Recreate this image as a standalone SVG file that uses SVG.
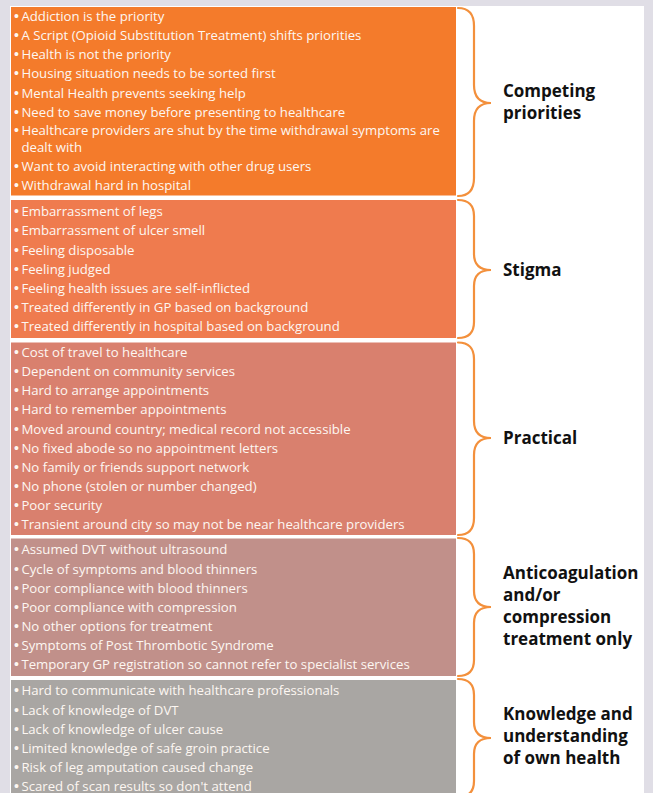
<svg xmlns="http://www.w3.org/2000/svg" width="653" height="793" viewBox="0 0 653 793">
<style>
.item{font-family:"Open Sans","Liberation Sans",sans-serif;font-size:13.2px;fill:#fdf7f2}
.b{font-family:"Liberation Sans",sans-serif;font-size:14px}
.lbl{font-family:"Open Sans","Liberation Sans",sans-serif;font-size:17px;font-weight:700;fill:#111111}
.brace{fill:none;stroke:#f3903c;stroke-width:2.2;stroke-linecap:round}
</style>
<rect x="0" y="0" width="653" height="793" fill="#e0dee6"/>
<rect x="10" y="6" width="634" height="790" fill="#ffffff"/>

<g id="competing-priorities">
<rect x="11" y="7" width="445" height="188.5" fill="#f47b2b"/>
<text class="item" x="14" y="20.7"><tspan class="b">•</tspan><tspan dx="2.5">Addiction is the priority</tspan></text>
<text class="item" x="14" y="40"><tspan class="b">•</tspan><tspan dx="2.5">A Script (Opioid Substitution Treatment) shifts priorities</tspan></text>
<text class="item" x="14" y="59.4"><tspan class="b">•</tspan><tspan dx="2.5">Health is not the priority</tspan></text>
<text class="item" x="14" y="78.4"><tspan class="b">•</tspan><tspan dx="2.5">Housing situation needs to be sorted first</tspan></text>
<text class="item" x="14" y="97.5"><tspan class="b">•</tspan><tspan dx="2.5">Mental Health prevents seeking help</tspan></text>
<text class="item" x="14" y="116.7"><tspan class="b">•</tspan><tspan dx="2.5">Need to save money before presenting to healthcare</tspan></text>
<text class="item" x="14" y="135.4"><tspan class="b">•</tspan><tspan dx="2.5">Healthcare providers are shut by the time withdrawal symptoms are</tspan></text>
<text class="item" x="21.5" y="151.8">dealt with</text>
<text class="item" x="14" y="170.8"><tspan class="b">•</tspan><tspan dx="2.5">Want to avoid interacting with other drug users</tspan></text>
<text class="item" x="14" y="190"><tspan class="b">•</tspan><tspan dx="2.5">Withdrawal hard in hospital</tspan></text>
<text class="lbl" x="503" y="97">Competing</text>
<text class="lbl" x="503" y="119">priorities</text>
</g>

<g id="stigma">
<rect x="11" y="200" width="445" height="138" fill="#ef7b4e"/>
<text class="item" x="14" y="216"><tspan class="b">•</tspan><tspan dx="2.5">Embarrassment of legs</tspan></text>
<text class="item" x="14" y="235.4"><tspan class="b">•</tspan><tspan dx="2.5">Embarrassment of ulcer smell</tspan></text>
<text class="item" x="14" y="254.7"><tspan class="b">•</tspan><tspan dx="2.5">Feeling disposable</tspan></text>
<text class="item" x="14" y="273.7"><tspan class="b">•</tspan><tspan dx="2.5">Feeling judged</tspan></text>
<text class="item" x="14" y="292.8"><tspan class="b">•</tspan><tspan dx="2.5">Feeling health issues are self-inflicted</tspan></text>
<text class="item" x="14" y="312"><tspan class="b">•</tspan><tspan dx="2.5">Treated differently in GP based on background</tspan></text>
<text class="item" x="14" y="330.8"><tspan class="b">•</tspan><tspan dx="2.5">Treated differently in hospital based on background</tspan></text>
<text class="lbl" x="503" y="276">Stigma</text>
</g>

<g id="practical">
<rect x="11" y="342.5" width="445" height="192.5" fill="#d9806e"/>
<text class="item" x="14" y="356.8"><tspan class="b">•</tspan><tspan dx="2.5">Cost of travel to healthcare</tspan></text>
<text class="item" x="14" y="376"><tspan class="b">•</tspan><tspan dx="2.5">Dependent on community services</tspan></text>
<text class="item" x="14" y="395.3"><tspan class="b">•</tspan><tspan dx="2.5">Hard to arrange appointments</tspan></text>
<text class="item" x="14" y="414.4"><tspan class="b">•</tspan><tspan dx="2.5">Hard to remember appointments</tspan></text>
<text class="item" x="14" y="433.5"><tspan class="b">•</tspan><tspan dx="2.5">Moved around country; medical record not accessible</tspan></text>
<text class="item" x="14" y="452.7"><tspan class="b">•</tspan><tspan dx="2.5">No fixed abode so no appointment letters</tspan></text>
<text class="item" x="14" y="471.5"><tspan class="b">•</tspan><tspan dx="2.5">No family or friends support network</tspan></text>
<text class="item" x="14" y="490.7"><tspan class="b">•</tspan><tspan dx="2.5">No phone (stolen or number changed)</tspan></text>
<text class="item" x="14" y="509.8"><tspan class="b">•</tspan><tspan dx="2.5">Poor security</tspan></text>
<text class="item" x="14" y="528.8"><tspan class="b">•</tspan><tspan dx="2.5">Transient around city so may not be near healthcare providers</tspan></text>
<text class="lbl" x="503" y="444">Practical</text>
</g>

<g id="anticoagulation">
<rect x="11" y="538.5" width="445" height="137.5" fill="#c1908a"/>
<text class="item" x="14" y="554"><tspan class="b">•</tspan><tspan dx="2.5">Assumed DVT without ultrasound</tspan></text>
<text class="item" x="14" y="573.6"><tspan class="b">•</tspan><tspan dx="2.5">Cycle of symptoms and blood thinners</tspan></text>
<text class="item" x="14" y="593"><tspan class="b">•</tspan><tspan dx="2.5">Poor compliance with blood thinners</tspan></text>
<text class="item" x="14" y="612"><tspan class="b">•</tspan><tspan dx="2.5">Poor compliance with compression</tspan></text>
<text class="item" x="14" y="631"><tspan class="b">•</tspan><tspan dx="2.5">No other options for treatment</tspan></text>
<text class="item" x="14" y="650.4"><tspan class="b">•</tspan><tspan dx="2.5">Symptoms of Post Thrombotic Syndrome</tspan></text>
<text class="item" x="14" y="669.4"><tspan class="b">•</tspan><tspan dx="2.5">Temporary GP registration so cannot refer to specialist services</tspan></text>
<text class="lbl" x="503" y="579.3">Anticoagulation</text>
<text class="lbl" x="503" y="601.2">and/or</text>
<text class="lbl" x="503" y="623">compression</text>
<text class="lbl" x="503" y="645">treatment only</text>
</g>

<g id="knowledge">
<rect x="11" y="680" width="445" height="120" fill="#a9a6a3"/>
<text class="item" x="14" y="695.4"><tspan class="b">•</tspan><tspan dx="2.5">Hard to communicate with healthcare professionals</tspan></text>
<text class="item" x="14" y="714.7"><tspan class="b">•</tspan><tspan dx="2.5">Lack of knowledge of DVT</tspan></text>
<text class="item" x="14" y="734"><tspan class="b">•</tspan><tspan dx="2.5">Lack of knowledge of ulcer cause</tspan></text>
<text class="item" x="14" y="753"><tspan class="b">•</tspan><tspan dx="2.5">Limited knowledge of safe groin practice</tspan></text>
<text class="item" x="14" y="772"><tspan class="b">•</tspan><tspan dx="2.5">Risk of leg amputation caused change</tspan></text>
<text class="item" x="14" y="790.6"><tspan class="b">•</tspan><tspan dx="2.5">Scared of scan results so don't attend</tspan></text>
<text class="lbl" x="503" y="720">Knowledge and</text>
<text class="lbl" x="503" y="742">understanding</text>
<text class="lbl" x="503" y="764">of own health</text>
</g>

<g id="connectors">
<path class="brace" d="M458 8 Q474 8 474 26 L474 85 Q474 103 491 103 Q474 103 474 121 L474 178 Q474 196 458 196"/>
<path class="brace" d="M458 200 Q474 200 474 216 L474 254 Q474 270 491 270 Q474 270 474 286 L474 322 Q474 338 458 338"/>
<path class="brace" d="M458 342.5 Q474 342.5 474 359 L474 421 Q474 438 491 438 Q474 438 474 455 L474 518 Q474 535 458 535"/>
<path class="brace" d="M458 538 Q474 538 474 554 L474 591 Q474 607 491 607 Q474 607 474 623 L474 660 Q474 676 458 676"/>
<path class="brace" d="M458 679 Q474 679 474 695 L474 722 Q474 738 491 738 Q474 738 474 754 L474 781 Q474 797 458 797"/>
</g>
</svg>
